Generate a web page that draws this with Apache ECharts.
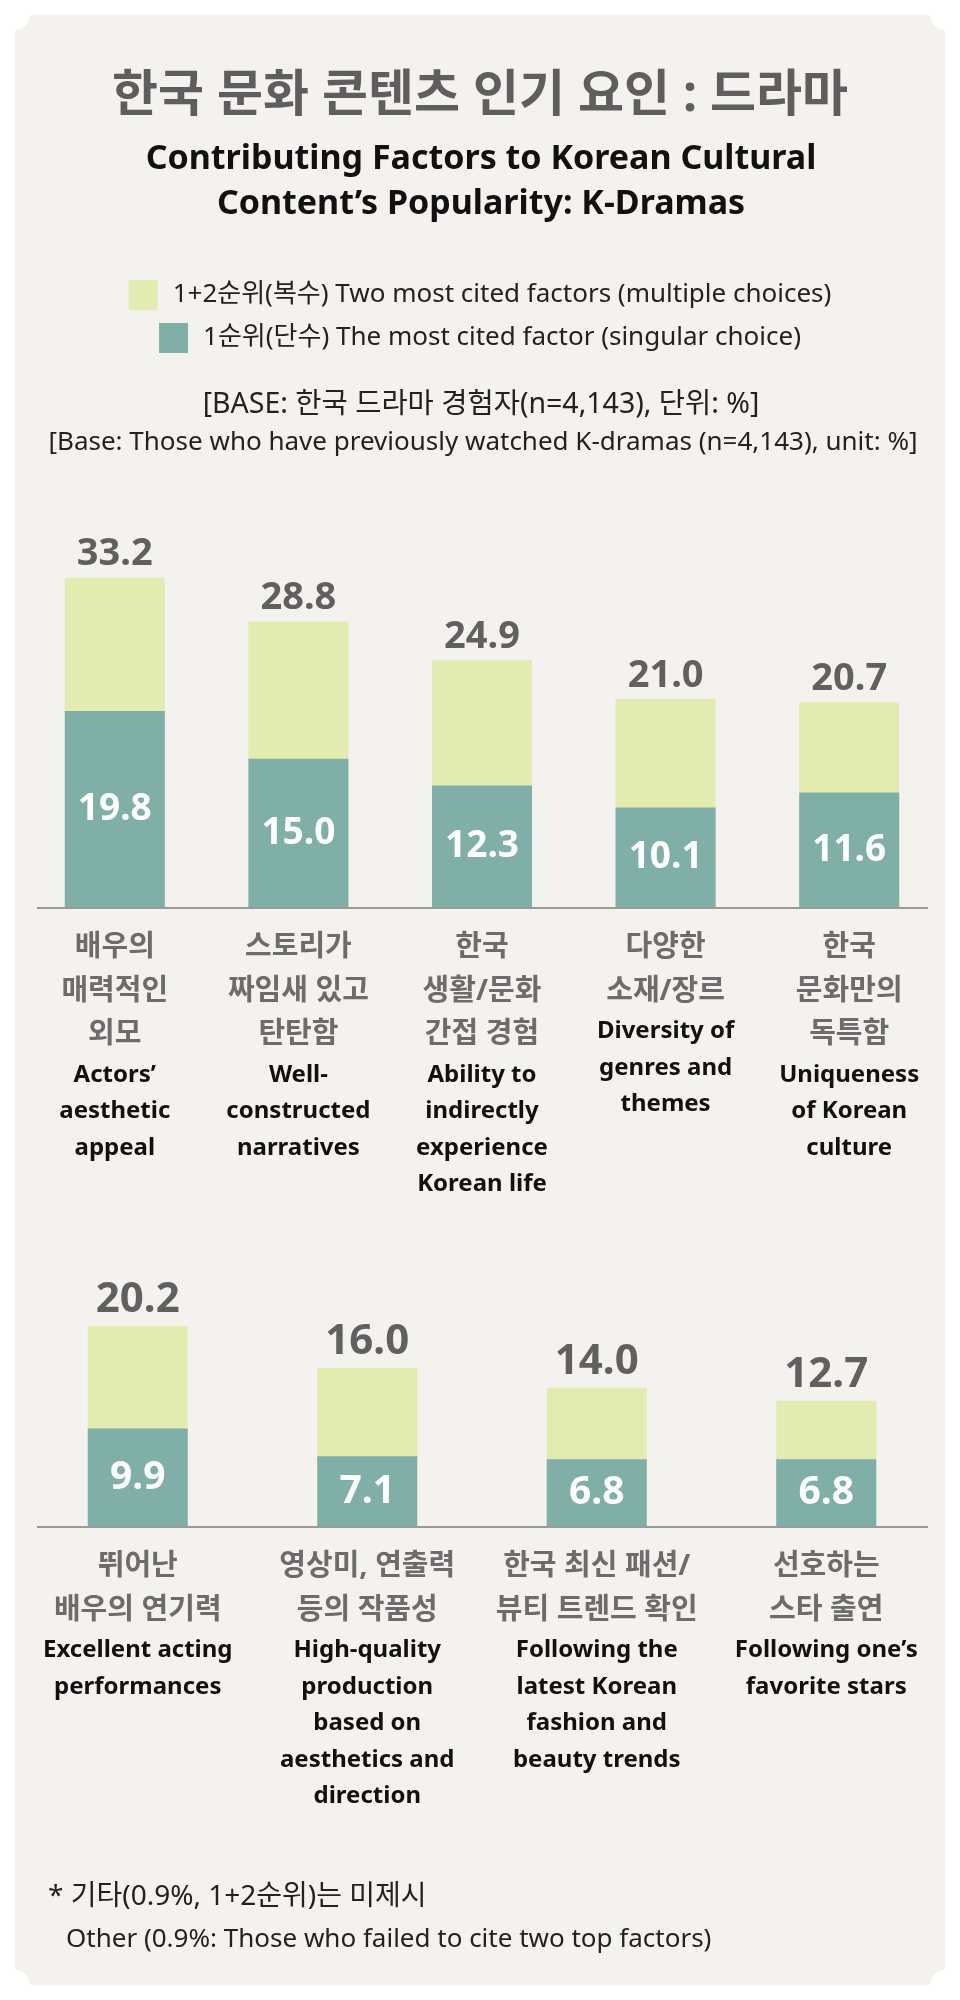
<!DOCTYPE html>
<html>
<head>
<meta charset="utf-8">
<script src="https://cdn.jsdelivr.net/npm/echarts@6/dist/echarts.min.js"></script>
<style>
html,body{margin:0;padding:0;background:#ffffff;}
#chart{width:960px;height:2000px;}
</style>
</head>
<body>
<div id="chart"></div>
<script>
// ---- data ----
const seriesNames = ['1+2순위(복수) Two most cited factors (multiple choices)', '1순위(단수) The most cited factor (singular choice)'];

const categories1Ko = ['배우의\n매력적인\n외모', '스토리가\n짜임새 있고\n탄탄함', '한국\n생활/문화\n간접 경험', '다양한\n소재/장르', '한국\n문화만의\n독특함'];
const categories1En = ['Actors’\naesthetic\nappeal', 'Well-\nconstructed\nnarratives', 'Ability to\nindirectly\nexperience\nKorean life', 'Diversity of\ngenres and\nthemes', 'Uniqueness\nof Korean\nculture'];
const total1 = [33.2, 28.8, 24.9, 21.0, 20.7];
const first1 = [19.8, 15.0, 12.3, 10.1, 11.6];

const categories2Ko = ['뛰어난\n배우의 연기력', '영상미, 연출력\n등의 작품성', '한국 최신 패션/\n뷰티 트렌드 확인', '선호하는\n스타 출연'];
const categories2En = ['Excellent acting\nperformances', 'High-quality\nproduction\nbased on\naesthetics and\ndirection', 'Following the\nlatest Korean\nfashion and\nbeauty trends', 'Following one’s\nfavorite stars'];
const total2 = [20.2, 16.0, 14.0, 12.7];
const first2 = [9.9, 7.1, 6.8, 6.8];

const titleKo = '한국 문화 콘텐츠 인기 요인 : 드라마';
const titleEn1 = 'Contributing Factors to Korean Cultural';
const titleEn2 = 'Content’s Popularity: K-Dramas';
const baseKo = '[BASE: 한국 드라마 경험자(n=4,143), 단위: %]';
const baseEn = '[Base: Those who have previously watched K-dramas (n=4,143), unit: %]';
const noteKo = '* 기타(0.9%, 1+2순위)는 미제시';
const noteEn = 'Other (0.9%: Those who failed to cite two top factors)';

// ---- style ----
const FONT = "'Noto Sans', 'Noto Sans CJK KR', sans-serif";
const GREEN = '#e2ebb0';
const TEAL = '#7fafa7';
const PANEL = '#f3f2ee';

function catName(ko, en) { return ko + '||' + en; }
const cats1 = categories1Ko.map((k, i) => catName(k, categories1En[i]));
const cats2 = categories2Ko.map((k, i) => catName(k, categories2En[i]));

function labelFormatter(v) {
  const parts = v.split('||');
  const ko = parts[0].split('\n').map(s => '{ko|' + s + '}');
  const en = parts[1].split('\n').map(s => '{en|' + s + '}');
  return ko.concat(en).join('\n');
}

const axisLabelStyle = {
  interval: 0,
  margin: 18,
  formatter: labelFormatter,
  rich: {
    ko: { fontFamily: FONT, fontSize: 29, fontWeight: 'bold', color: '#6c6c6c', lineHeight: 43.5, align: 'center' },
    en: { fontFamily: FONT, fontSize: 24, fontWeight: 'bold', color: '#111111', lineHeight: 36.5, align: 'center' }
  }
};

function topLabel(size, dist) {
  return { show: true, position: 'top', distance: dist, fontFamily: FONT, fontSize: size, fontWeight: 'bold', color: '#606060',
    formatter: p => p.value.toFixed(1) };
}
function innerLabel(size) {
  return { show: true, position: 'inside', fontFamily: FONT, fontSize: size, fontWeight: 'bold', color: '#ffffff',
    formatter: p => p.value.toFixed(1) };
}
function txt(text, x, y, size, weight, fill, align) {
  return { type: 'text', x: x, y: y, style: { text: text, fontFamily: FONT, fontSize: size, fontWeight: weight, fill: fill,
    textAlign: align || 'center', textVerticalAlign: 'middle' } };
}

const chart = echarts.init(document.getElementById('chart'), null, { renderer: 'canvas' });

const option = {
  backgroundColor: '#ffffff',
  animation: false,
  graphic: [
    { type: 'rect', z: -10, shape: { x: 15, y: 15, width: 930, height: 1970 }, style: { fill: PANEL } },
    { type: 'circle', z: -9, shape: { cx: 15, cy: 15, r: 15 }, style: { fill: '#ffffff' } },
    { type: 'circle', z: -9, shape: { cx: 945, cy: 15, r: 15 }, style: { fill: '#ffffff' } },
    { type: 'circle', z: -9, shape: { cx: 15, cy: 1985, r: 15 }, style: { fill: '#ffffff' } },
    { type: 'circle', z: -9, shape: { cx: 945, cy: 1985, r: 15 }, style: { fill: '#ffffff' } },
    txt(titleKo, 480, 97, 50, 'bold', '#5e5e5e'),
    txt(titleEn1, 481, 159, 34, 'bold', '#111111'),
    txt(titleEn2, 481, 204, 34, 'bold', '#111111'),
    txt(baseKo, 481, 405, 28.5, 'normal', '#222222'),
    txt(baseEn, 483, 443, 26, 'normal', '#222222'),
    txt(noteKo, 48, 1897, 28, 'normal', '#222222', 'left'),
    txt(noteEn, 66, 1940, 26, 'normal', '#222222', 'left'),
    { type: 'line', z: 10, shape: { x1: 37, y1: 908, x2: 928, y2: 908 }, style: { stroke: '#9a9a9a', lineWidth: 2 } },
    { type: 'line', z: 10, shape: { x1: 37, y1: 1527, x2: 928, y2: 1527 }, style: { stroke: '#9a9a9a', lineWidth: 2 } }
  ],
  legend: [
    { data: [seriesNames[0]], top: 275, left: 'center', itemWidth: 29, itemHeight: 30, icon: 'rect',
      textStyle: { fontFamily: FONT, fontSize: 26, color: '#222222', padding: [0, 0, 0, 10] }, selectedMode: false },
    { data: [seriesNames[1]], top: 318, left: 'center', itemWidth: 29, itemHeight: 30, icon: 'rect',
      textStyle: { fontFamily: FONT, fontSize: 26, color: '#222222', padding: [0, 0, 0, 10] }, selectedMode: false }
  ],
  grid: [
    { left: 23, right: 19, top: 510, height: 398 },
    { left: 23, right: 19, top: 1129, height: 398 }
  ],
  xAxis: [
    { type: 'category', gridIndex: 0, data: cats1, axisLine: { show: false }, axisTick: { show: false }, axisLabel: axisLabelStyle },
    { type: 'category', gridIndex: 1, data: cats2, axisLine: { show: false }, axisTick: { show: false }, axisLabel: axisLabelStyle }
  ],
  yAxis: [
    { type: 'value', gridIndex: 0, min: 0, max: 40, show: false },
    { type: 'value', gridIndex: 1, min: 0, max: 40, show: false }
  ],
  series: [
    { name: seriesNames[0], type: 'bar', xAxisIndex: 0, yAxisIndex: 0, data: total1, barWidth: 100, barGap: '-100%',
      itemStyle: { color: GREEN }, label: topLabel(38, 4) },
    { name: seriesNames[1], type: 'bar', xAxisIndex: 0, yAxisIndex: 0, data: first1, barWidth: 100, barGap: '-100%',
      itemStyle: { color: TEAL }, label: innerLabel(37) },
    { name: seriesNames[0], type: 'bar', xAxisIndex: 1, yAxisIndex: 1, data: total2, barWidth: 100, barGap: '-100%',
      itemStyle: { color: GREEN }, label: topLabel(42, 5) },
    { name: seriesNames[1], type: 'bar', xAxisIndex: 1, yAxisIndex: 1, data: first2, barWidth: 100, barGap: '-100%',
      itemStyle: { color: TEAL }, label: innerLabel(39) }
  ]
};
chart.setOption(option);
</script>
</body>
</html>
